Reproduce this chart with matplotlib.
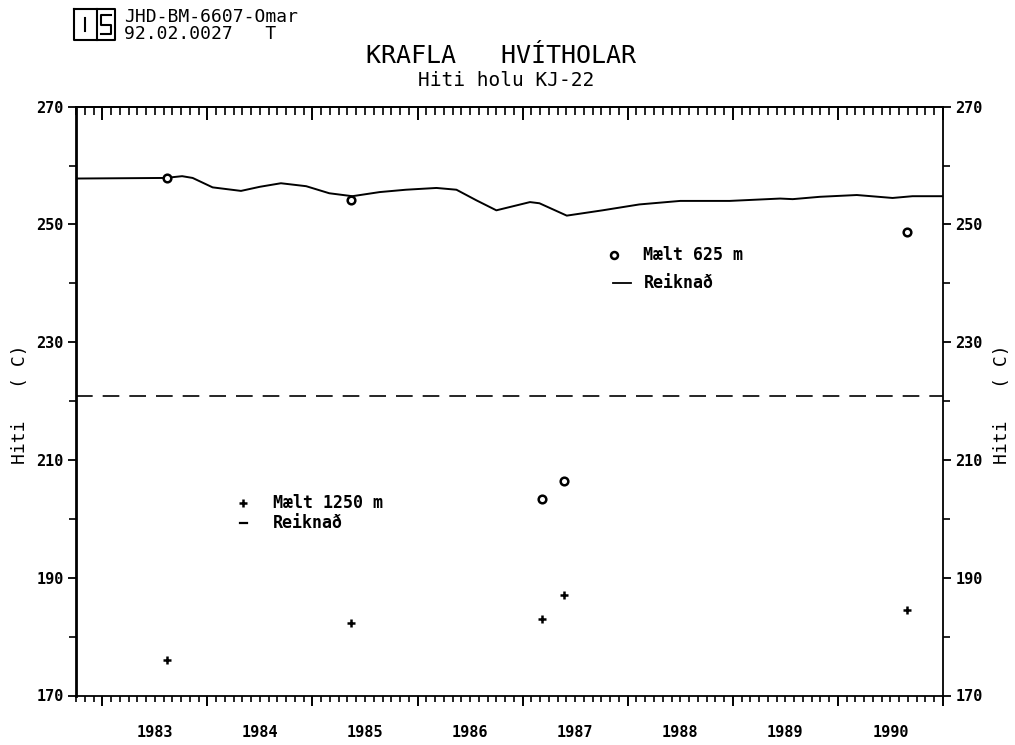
import matplotlib
matplotlib.use('Agg')
import matplotlib.pyplot as plt
from matplotlib.lines import Line2D
from matplotlib.ticker import MultipleLocator, FixedLocator, NullFormatter

# ---------------- data ----------------
calc_625_years = [1982.75, 1983.60, 1983.76, 1983.86, 1984.05, 1984.32, 1984.50,
                  1984.70, 1984.94, 1985.16, 1985.38, 1985.64, 1985.89, 1986.18,
                  1986.37, 1986.56, 1986.75, 1987.07, 1987.16, 1987.42, 1987.76,
                  1988.11, 1988.50, 1988.97, 1989.45, 1989.57, 1989.83, 1990.18,
                  1990.52, 1990.71, 1991.00]
calc_625_values = [257.8, 257.9, 258.2, 257.9, 256.3, 255.7, 256.4,
                   257.0, 256.5, 255.3, 254.8, 255.5, 255.9, 256.2,
                   255.9, 254.1, 252.4, 253.8, 253.6, 251.5, 252.4,
                   253.4, 254.0, 254.0, 254.4, 254.3, 254.7, 255.0,
                   254.5, 254.8, 254.8]

meas_625_years = [1983.62, 1985.37, 1987.18, 1987.39, 1990.66]
meas_625_values = [257.9, 254.1, 203.3, 206.5, 248.7]

meas_1250_years = [1983.62, 1985.37, 1987.18, 1987.39, 1990.66]
meas_1250_values = [176.1, 182.3, 183.0, 187.0, 184.5]

calc_1250_years = [1982.75, 1991.00]
calc_1250_values = [220.9, 220.9]

year_labels = [1983, 1984, 1985, 1986, 1987, 1988, 1989, 1990]
y_ticks = [170, 190, 210, 230, 250, 270]

# ---------------- figure ----------------
W, H = 1015, 745
fig = plt.figure(figsize=(W / 100, H / 100), dpi=100)
mono = 'DejaVu Sans Mono'

def fx(px):
    return px / W

def fy(py):
    return 1 - py / H

ax = fig.add_axes([fx(76), fy(695.5), fx(943) - fx(76), fy(106.7) - fy(695.5)])
ax.set_xlim(1982.75, 1991.0)
ax.set_ylim(170, 270)

# series
ax.plot(calc_625_years, calc_625_values, color='black', lw=1.4)
ax.plot(calc_1250_years, calc_1250_values, color='black', lw=1.2, dashes=(10, 6))
ax.plot(meas_625_years, meas_625_values, ls='none', marker='o', ms=5.5,
        mfc='white', mec='black', mew=1.8)
ax.plot(meas_1250_years, meas_1250_values, ls='none', marker='+', ms=6,
        mec='black', mew=1.8)

# spines
for s in ax.spines.values():
    s.set_linewidth(1.3)
ax.spines['left'].set_linewidth(2.0)

# x ticks: bottom outward, labels at mid-year
ax.xaxis.set_major_locator(FixedLocator(year_labels + [1991]))
ax.xaxis.set_minor_locator(MultipleLocator(1 / 12))
ax.xaxis.set_major_formatter(NullFormatter())
ax.tick_params(axis='x', which='major', direction='out', length=7, width=1.4,
               bottom=True, top=False)
ax.tick_params(axis='x', which='minor', direction='out', length=4, width=1.2,
               bottom=True, top=False)
for yr in year_labels:
    ax.text(yr + 0.5, -0.062, str(yr), transform=ax.get_xaxis_transform(),
            ha='center', va='center', fontsize=11, fontweight='bold', family=mono)

# top ticks pointing inward
top = ax.secondary_xaxis('top')
top.xaxis.set_major_locator(FixedLocator(year_labels + [1991]))
top.xaxis.set_minor_locator(MultipleLocator(1 / 12))
top.xaxis.set_major_formatter(NullFormatter())
top.tick_params(axis='x', which='major', direction='in', length=9, width=1.4)
top.tick_params(axis='x', which='minor', direction='in', length=6, width=1.2)
top.spines['top'].set_linewidth(1.3)

# y ticks both sides outward
ax.yaxis.set_major_locator(FixedLocator(y_ticks))
ax.yaxis.set_minor_locator(MultipleLocator(10))
ax.tick_params(axis='y', which='major', direction='out', length=6, width=1.3,
               left=True, right=True, labelleft=True, labelright=True, pad=3)
ax.tick_params(axis='y', which='minor', direction='out', length=5, width=1.2,
               left=True, right=True)
for lab in ax.get_yticklabels():
    lab.set_fontfamily(mono)
    lab.set_fontweight('bold')
    lab.set_fontsize(11)

# y labels left and right
fig.text(fx(20), fy(404), 'Hiti   ( C)', rotation=90, ha='center', va='center',
         fontsize=13, family=mono)
fig.text(fx(1002), fy(404), 'Hiti   ( C)', rotation=90, ha='center', va='center',
         fontsize=13, family=mono)

# titles
fig.text(fx(501), fy(56), 'KRAFLA   HVÍTHOLAR', ha='center', va='center',
         fontsize=18, family=mono)
fig.text(fx(506), fy(81), 'Hiti holu KJ-22', ha='center', va='center',
         fontsize=14, family=mono)

# header
fig.text(fx(124), fy(17), 'JHD-BM-6607-Omar', ha='left', va='center',
         fontsize=13, family=mono)
fig.text(fx(124), fy(34), '92.02.0027   T', ha='left', va='center',
         fontsize=13, family=mono)

def seg(pts, lw=1.5):
    xs = [fx(p[0]) for p in pts]
    ys = [fy(p[1]) for p in pts]
    fig.add_artist(Line2D(xs, ys, color='black', lw=lw, transform=fig.transFigure))

seg([(74, 9), (115, 9), (115, 40), (74, 40), (74, 9)])
seg([(97, 9), (97, 40)])
seg([(85, 18), (85, 31)])
seg([(111, 15), (101, 15), (101, 25), (111, 25), (111, 34), (101, 34)])

# legends (drawn as text + markers in axes data space)
ax.plot([1987.87], [244.8], ls='none', marker='o', ms=5, mfc='white', mec='black', mew=1.8)
ax.plot([1987.86, 1988.03], [240.1, 240.1], color='black', lw=1.3)
ax.text(1988.15, 244.8, 'Mælt 625 m', ha='left', va='center', fontsize=12,
        fontweight='bold', family=mono)
ax.text(1988.15, 240.1, 'Reiknað', ha='left', va='center', fontsize=12,
        fontweight='bold', family=mono)

ax.plot([1984.34], [202.7], ls='none', marker='+', ms=6, mec='black', mew=1.8)
ax.plot([1984.31, 1984.38], [199.3, 199.3], color='black', lw=1.6)
ax.text(1984.62, 202.7, 'Mælt 1250 m', ha='left', va='center', fontsize=12,
        fontweight='bold', family=mono)
ax.text(1984.62, 199.3, 'Reiknað', ha='left', va='center', fontsize=12,
        fontweight='bold', family=mono)

fig.savefig('out.png', dpi=100)
